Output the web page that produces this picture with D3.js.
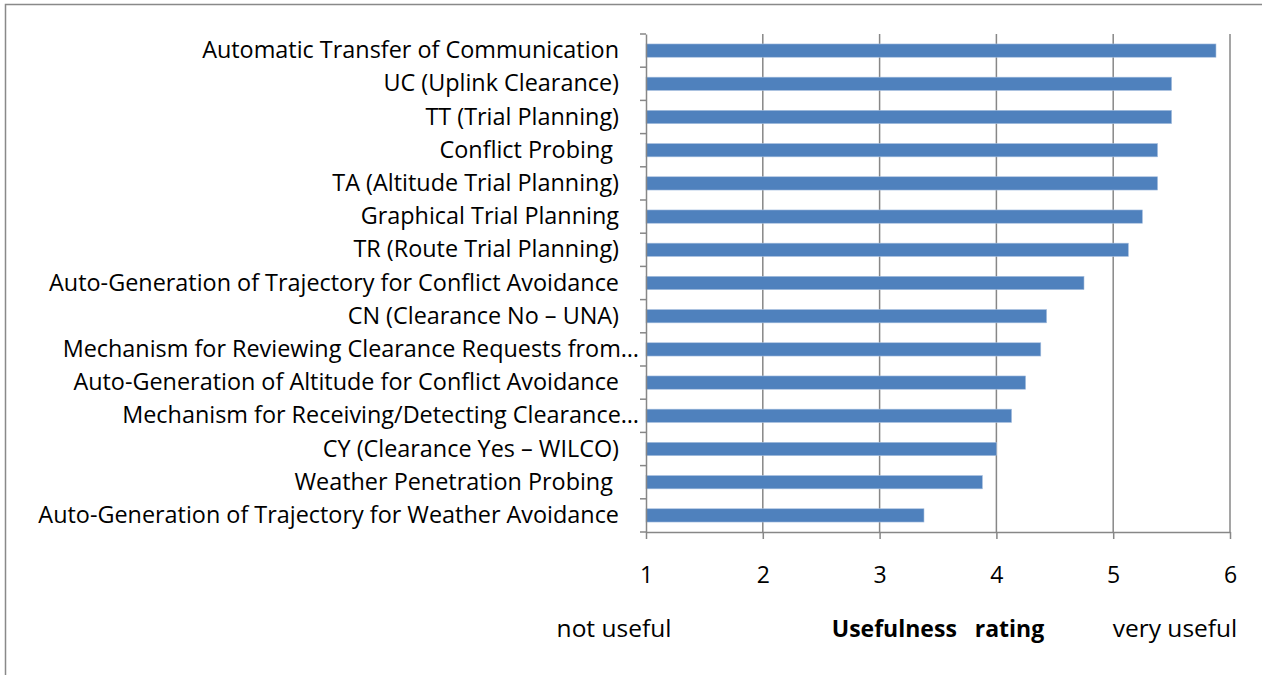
<!DOCTYPE html>
<html>
<head>
<meta charset="utf-8">
<script src="https://cdn.jsdelivr.net/npm/d3@7"></script>
<style>
  body { margin: 0; background: #fff; }
  svg { display: block; }
  text { font-family: "Open Sans", sans-serif; fill: #000; }
</style>
</head>
<body>
<div id="chart"></div>
<script>
// categories, top to bottom
const features = [
  "Automatic Transfer of Communication",
  "UC (Uplink Clearance)",
  "TT (Trial Planning)",
  "Conflict Probing\u00a0",
  "TA (Altitude Trial Planning)",
  "Graphical Trial Planning",
  "TR (Route Trial Planning)",
  "Auto-Generation of Trajectory for Conflict Avoidance",
  "CN (Clearance No \u2013 UNA)",
  "Mechanism for Reviewing Clearance Requests from\u2026",
  "Auto-Generation of Altitude for Conflict Avoidance",
  "Mechanism for Receiving/Detecting Clearance\u2026",
  "CY (Clearance Yes \u2013 WILCO)",
  "Weather Penetration Probing\u00a0",
  "Auto-Generation of Trajectory for Weather Avoidance"
];
// mean usefulness rating
const ratings = [5.88, 5.5, 5.5, 5.38, 5.38, 5.25, 5.13, 4.75, 4.43, 4.38, 4.25, 4.13, 4.0, 3.88, 3.38];
const xTicks = [1, 2, 3, 4, 5, 6];
const axisNotes = ["not useful", "Usefulness   rating", "very useful"];

const w = 1262, h = 675;
const margin = {left: 646, right: 32, top: 34, bottom: 143};

const svg = d3.select("#chart")
  .append("svg")
  .attr("width", w)
  .attr("height", h);

// chart frame
svg.append("rect")
  .attr("x", 5.5).attr("y", 4.5)
  .attr("width", 1400).attr("height", 800)
  .attr("fill", "none")
  .attr("stroke", "#898989")
  .attr("stroke-width", 1.5);

const x = d3.scaleLinear()
  .domain([1, 6])
  .range([margin.left, w - margin.right]);

const y = d3.scaleBand()
  .domain(features)
  .range([margin.top, h - margin.bottom])
  .paddingInner(0.6)
  .paddingOuter(0.3);

const grey = "#878787";

// vertical gridlines
svg.append("g")
  .selectAll("line")
  .data(xTicks.slice(1))
  .enter()
  .append("line")
  .attr("x1", d => x(d)).attr("x2", d => x(d))
  .attr("y1", margin.top).attr("y2", h - margin.bottom)
  .attr("stroke", grey)
  .attr("stroke-width", 1.5);

// bars
svg.append("g")
  .selectAll("rect")
  .data(features)
  .enter()
  .append("rect")
  .attr("x", x(1))
  .attr("y", d => y(d))
  .attr("width", (d, i) => x(ratings[i]) - x(1))
  .attr("height", y.bandwidth())
  .attr("fill", "#4f81bd")
  .attr("stroke", "#a7bfde")
  .attr("stroke-width", 0.6);

// x axis
const xAxis = d3.axisBottom(x)
  .tickValues(xTicks)
  .tickFormat(d3.format("d"))
  .tickSizeInner(7)
  .tickSizeOuter(0)
  .tickPadding(28);
const gx = svg.append("g")
  .attr("transform", "translate(0," + (h - margin.bottom) + ")")
  .call(xAxis);
gx.select(".domain").attr("stroke", grey).attr("stroke-width", 1.5);
gx.selectAll(".tick line").attr("stroke", grey).attr("stroke-width", 1.5);
gx.selectAll(".tick text").style("font-size", "23px");

// y axis: ticks sit on the band boundaries, like Excel
const yAxis = d3.axisLeft(y)
  .tickSize(0)
  .tickPadding(27);
const gy = svg.append("g")
  .attr("transform", "translate(" + margin.left + ",0)")
  .call(yAxis);
gy.select(".domain").attr("stroke", grey).attr("stroke-width", 1.5);
gy.selectAll(".tick text")
  .style("font-size", "23.4px")
  .attr("dx", d => d.endsWith("\u2026") ? 20 : 0);

const step = y.step();
const edges = d3.range(features.length + 1).map(i => margin.top + i * step);
gy.selectAll(".cat-tick")
  .data(edges)
  .enter()
  .append("line")
  .attr("class", "cat-tick")
  .attr("x1", -6).attr("x2", 0)
  .attr("y1", d => d).attr("y2", d => d)
  .attr("stroke", grey)
  .attr("stroke-width", 1.5);

// axis notes under the ticks
const noteX = [614, 938, 1175];
svg.append("g")
  .selectAll("text")
  .data(axisNotes)
  .enter()
  .append("text")
  .attr("x", (d, i) => noteX[i])
  .attr("y", 637)
  .attr("text-anchor", "middle")
  .style("font-size", (d, i) => i === 1 ? "23px" : "24.5px")
  .style("font-weight", (d, i) => i === 1 ? "bold" : "normal")
  .style("white-space", "pre")
  .text(d => d);
</script>
</body>
</html>
